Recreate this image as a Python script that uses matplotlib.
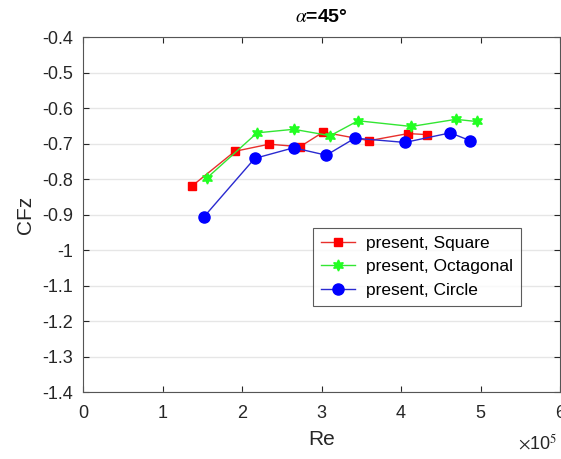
import matplotlib
matplotlib.use("Agg")
import matplotlib.pyplot as plt
from matplotlib.ticker import FuncFormatter, MultipleLocator

# --- data ---
re_square = [1.37e5, 1.91e5, 2.34e5, 2.73e5, 3.02e5, 3.60e5, 4.09e5, 4.33e5]
cfz_square = [-0.820, -0.722, -0.702, -0.709, -0.668, -0.692, -0.672, -0.675]

re_octagonal = [1.56e5, 2.19e5, 2.65e5, 3.11e5, 3.46e5, 4.13e5, 4.69e5, 4.95e5]
cfz_octagonal = [-0.797, -0.670, -0.660, -0.678, -0.636, -0.652, -0.632, -0.638]

re_circle = [1.52e5, 2.16e5, 2.65e5, 3.06e5, 3.42e5, 4.05e5, 4.62e5, 4.87e5]
cfz_circle = [-0.907, -0.742, -0.712, -0.733, -0.685, -0.697, -0.670, -0.692]

labels = ["present, Square", "present, Octagonal", "present, Circle"]

plt.rcParams['font.family'] = ['Liberation Sans', 'DejaVu Sans']
plt.rcParams['mathtext.fontset'] = 'stix'

fig = plt.figure(figsize=(5.61, 4.59), dpi=100)
ax = fig.add_axes([83 / 561, 1 - 392 / 459, 477 / 561, 355 / 459])

ax.plot(re_square, cfz_square, '-', color='#e8302c', lw=1.0,
        marker='s', ms=6, mfc='red', mec='red', label=labels[0])
ax.plot(re_octagonal, cfz_octagonal, '-', color='#33e633', lw=1.0,
        marker=(6, 1, 0), ms=8, mfc='#22ff22', mec='#22ff22', label=labels[1])
ax.plot(re_circle, cfz_circle, '-', color='#2a2ad0', lw=1.0,
        marker='o', ms=8, mfc='blue', mec='blue', label=labels[2])

ax.set_xlim(0, 6e5)
ax.set_ylim(-1.4, -0.4)
ax.xaxis.set_major_locator(MultipleLocator(1e5))
ax.yaxis.set_major_locator(MultipleLocator(0.1))
ax.xaxis.set_major_formatter(FuncFormatter(lambda v, p: f"{v / 1e5:g}"))
ax.yaxis.set_major_formatter(FuncFormatter(lambda v, p: f"{v:.1f}".replace("-1.0", "-1")))

ax.grid(True, axis='y', color='#e6e6e6', lw=1.0)
ax.set_axisbelow(True)
ax.tick_params(direction='in', top=True, right=True, labelsize=13,
               colors='#262626', length=4)
ax.tick_params(axis='x', pad=9)
ax.tick_params(axis='y', pad=7)
for s in ax.spines.values():
    s.set_color('#555555')

ax.set_xlabel('Re', fontsize=15, color='#262626', labelpad=6)
ax.set_ylabel('CFz', fontsize=15, color='#262626', labelpad=5)
ax.set_title(r'$\alpha$=45°', fontsize=14, fontweight='bold', pad=11)
fig.text(557 / 561, 1 - 443 / 459, r'$\times$10$^5$',
         fontsize=13, ha='right', va='center', color='#262626')

leg = ax.legend(loc='lower left', bbox_to_anchor=(0.482, 0.242), fontsize=12.5,
                frameon=True, fancybox=False, edgecolor='#333333',
                handlelength=2.0, borderpad=0.45, labelspacing=0.5,
                borderaxespad=0, handletextpad=0.6)
leg.get_frame().set_linewidth(0.8)

fig.savefig('out.png', dpi=100)
